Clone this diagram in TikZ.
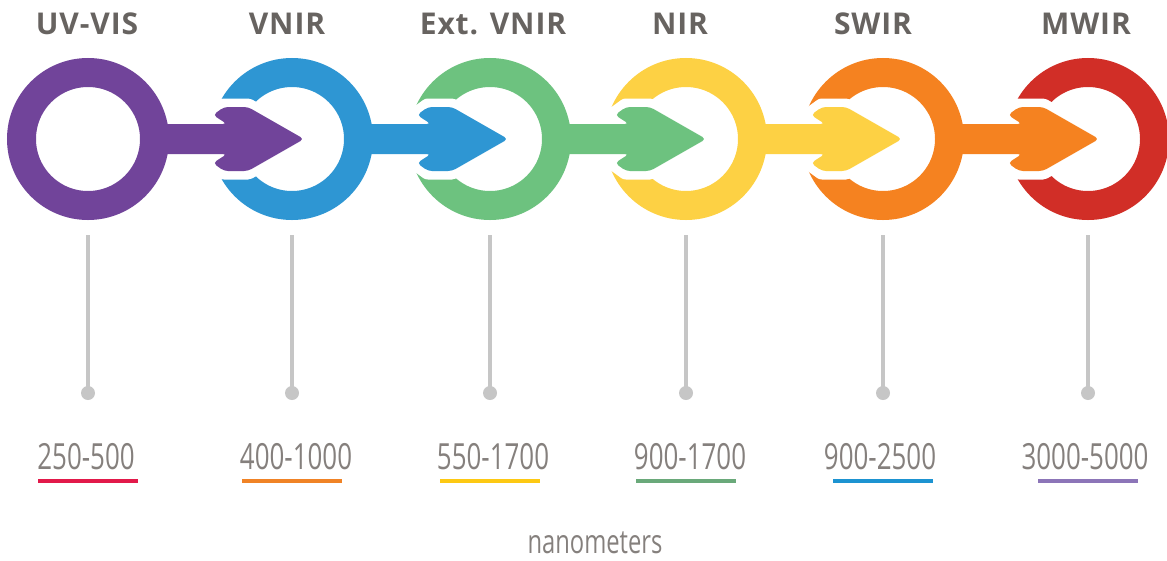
\documentclass[tikz,border=0pt]{standalone}
\usepackage{fontspec}
\setmainfont{Open Sans}
\newfontfamily\numfont[FakeStretch=0.72]{Open Sans}
\newfontfamily\ttlfont[LetterSpace=3]{Open Sans}
\usetikzlibrary{calc}
\definecolor{cpur}{HTML}{71449A}
\definecolor{cblu}{HTML}{2E96D3}
\definecolor{cgrn}{HTML}{6DC27F}
\definecolor{cyel}{HTML}{FDD144}
\definecolor{cora}{HTML}{F58220}
\definecolor{cred}{HTML}{D12E27}
\definecolor{u1}{HTML}{E2194A}
\definecolor{u2}{HTML}{F08326}
\definecolor{u3}{HTML}{FDC913}
\definecolor{u4}{HTML}{6AA97A}
\definecolor{u5}{HTML}{1D93D1}
\definecolor{u6}{HTML}{8C75B8}
\definecolor{ttl}{HTML}{676360}
\definecolor{numc}{HTML}{85807D}
\definecolor{stemc}{HTML}{C6C6C6}
\tikzset{
  ring/.style={circle, draw=#1, line width=29pt, minimum size=133pt, inner sep=0pt},
  titlelbl/.style={font=\ttlfont\fontsize{30}{30}\selectfont\bfseries, text=ttl, anchor=base, inner sep=0pt},
  rangelbl/.style={font=\numfont\fontsize{36}{36}\selectfont, text=numc, anchor=base, inner sep=0pt},
  stemline/.style={draw=stemc, line width=4pt},
  stemdot/.style={circle, fill=stemc, minimum size=14pt, inner sep=0pt},
  uline/.style={line width=4pt},
  halo/.style={draw=white, fill=white, line width=17pt, line join=round},
}
\begin{document}
\begin{tikzpicture}[x=1pt,y=-1pt]
\useasboundingbox (0,0) rectangle (1167,560);
% rings
\node[ring=cpur] (c1) at (88,139) {};
\node[ring=cblu] (c2) at (292,139) {};
\node[ring=cgrn] (c3) at (490,139) {};
\node[ring=cyel] (c4) at (686,139) {};
\node[ring=cora] (c5) at (883,139) {};
\node[ring=cred] (c6) at (1088,139) {};
% arrows
\foreach \s/\col in {c1/cpur,c2/cblu,c3/cgrn,c4/cyel,c5/cora}{
  \begin{scope}[shift={(\s.center)}]
    \path[halo] (96,-15) -- (139,-15) -- (125,-24) -- (136,-32) -- (160,-32) -- (216,0)
      -- (160,32) -- (136,32) -- (125,24) -- (139,15) -- (96,15) -- cycle;
    \fill[\col, rounded corners=4pt] (70,-15) -- (139,-15) -- (125,-24) -- (136,-32) -- (160,-32) -- (216,0)
      -- (160,32) -- (136,32) -- (125,24) -- (139,15) -- (70,15) -- cycle;
  \end{scope}
}
% titles
\node[titlelbl] (t1) at (87,34) {UV-VIS};
\node[titlelbl] (t2) at (287,34) {VNIR};
\node[titlelbl] (t3) at (493,34) {Ext. VNIR};
\node[titlelbl] (t4) at (680,34) {NIR};
\node[titlelbl] (t5) at (873,34) {SWIR};
\node[titlelbl] (t6) at (1086,34) {MWIR};
% stems
\foreach \i/\x in {1/88,2/292,3/490,4/686,5/883,6/1088}{
  \coordinate (s\i) at (\x,235);
  \node[stemdot] (d\i) at (\x,393) {};
  \draw[stemline] (s\i) -- (d\i.center);
}
% ranges
\node[rangelbl] (r1) at (86,469) {250-500};
\node[rangelbl] (r2) at (296,469) {400-1000};
\node[rangelbl] (r3) at (493,469) {550-1700};
\node[rangelbl] (r4) at (690,469) {900-1700};
\node[rangelbl] (r5) at (880,469) {900-2500};
\node[rangelbl] (r6) at (1085,469) {3000-5000};
% underlines
\foreach \i/\x/\col in {1/88/u1,2/292/u2,3/490/u3,4/686/u4,5/883/u5,6/1088/u6}{
  \coordinate (ua\i) at (\x-50,481);
  \coordinate (ub\i) at (\x+50,481);
  \draw[uline,\col] (ua\i) -- (ub\i);
}
\node[rangelbl, font=\numfont\fontsize{33}{33}\selectfont] (nm) at (595,553) {nanometers};
\end{tikzpicture}
\end{document}
